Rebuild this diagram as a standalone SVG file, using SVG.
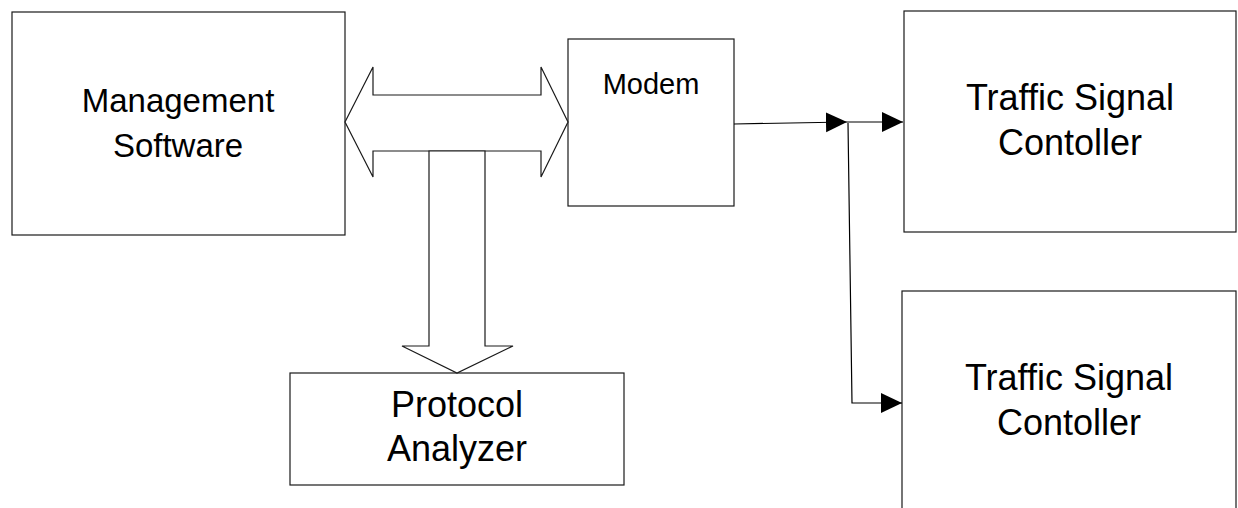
<svg xmlns="http://www.w3.org/2000/svg" width="1238" height="508" viewBox="0 0 1238 508">
  <style>
    .box { fill: #ffffff; stroke: #1a1a1a; stroke-width: 1.2; }
    .label { font-family: "Liberation Sans", Arial, sans-serif; fill: #000000; text-anchor: middle; }
    .wire { fill: none; stroke: #000000; stroke-width: 1.2; }
    .bus { fill: #ffffff; stroke: #1a1a1a; stroke-width: 1.2; stroke-linejoin: miter; }
  </style>
  <defs>
    <marker id="tri" markerUnits="userSpaceOnUse" markerWidth="22" markerHeight="22" refX="21" refY="10" orient="auto">
      <path d="M0,0 L21,10 L0,20 Z" fill="#000000"/>
    </marker>
  </defs>

  <rect width="1238" height="508" fill="#ffffff"/>

  <g id="management-software">
    <rect class="box" x="12" y="12" width="333" height="223"/>
    <text class="label" x="178" y="112" font-size="33">Management</text>
    <text class="label" x="178" y="157" font-size="33">Software</text>
  </g>

  <g id="modem">
    <rect class="box" x="568" y="39" width="166" height="167"/>
    <text class="label" x="651" y="94" font-size="29">Modem</text>
  </g>

  <g id="protocol-analyzer">
    <rect class="box" x="290" y="373" width="334" height="112"/>
    <text class="label" x="457" y="417" font-size="36">Protocol</text>
    <text class="label" x="457" y="461" font-size="36">Analyzer</text>
  </g>

  <g id="traffic-signal-controller-1">
    <rect class="box" x="904" y="11" width="332" height="221"/>
    <text class="label" x="1070" y="110" font-size="36">Traffic Signal</text>
    <text class="label" x="1070" y="155" font-size="36">Contoller</text>
  </g>

  <g id="traffic-signal-controller-2">
    <rect class="box" x="902" y="291" width="334" height="230"/>
    <text class="label" x="1069" y="390" font-size="36">Traffic Signal</text>
    <text class="label" x="1069" y="435" font-size="36">Contoller</text>
  </g>

  <g id="connectors">
    <!-- two-way bus between management software and modem -->
    <polygon class="bus" points="345,122 373,67 373,95 541,95 541,67 568,122 541,177 541,151 373,151 373,177"/>
    <!-- tap from the bus down to the protocol analyzer -->
    <polygon class="bus" points="429,151 485,151 485,346 513,346 457,373 402,346 429,346"/>
    <!-- modem output split to the controllers -->
    <line class="wire" x1="734" y1="124" x2="847" y2="122" marker-end="url(#tri)"/>
    <line class="wire" x1="847" y1="122" x2="903" y2="122" marker-end="url(#tri)"/>
    <polyline class="wire" points="848,123 852,403 902,403" marker-end="url(#tri)"/>
  </g>
</svg>
